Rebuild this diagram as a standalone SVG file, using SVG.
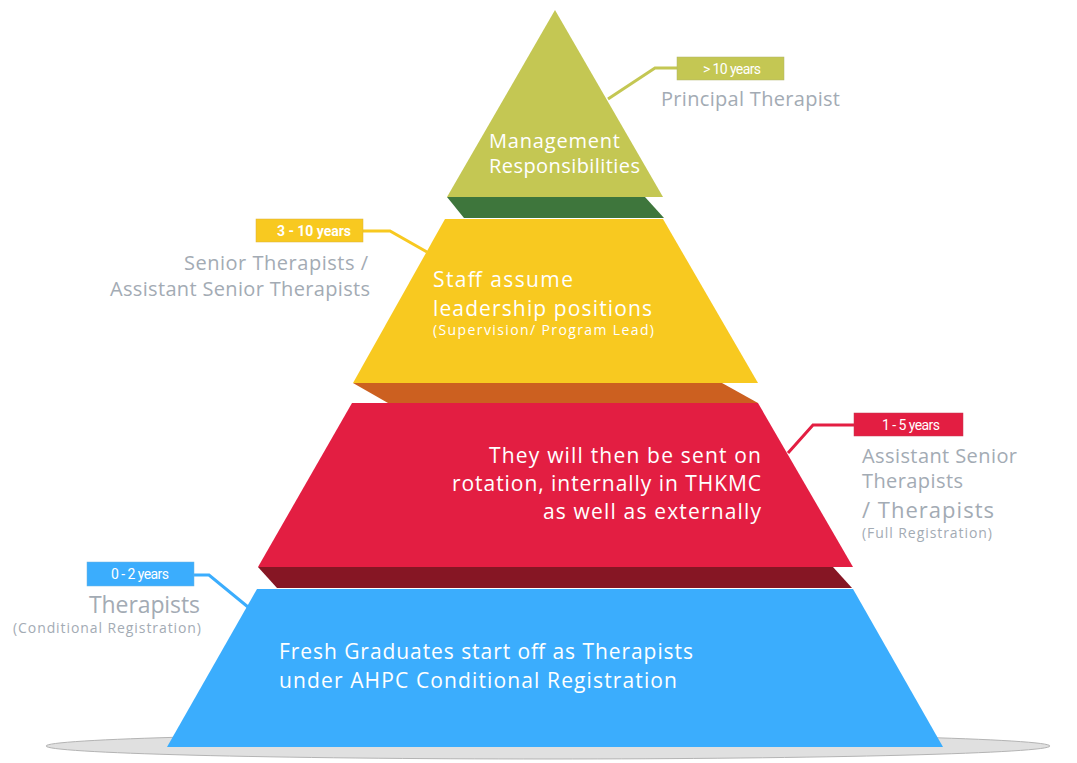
<svg xmlns="http://www.w3.org/2000/svg" width="1077" height="763" viewBox="0 0 1077 763">
<style>
.main{font-family:"Open Sans",Lato,sans-serif;fill:#ffffff;}
.side{font-family:"Open Sans",Lato,sans-serif;fill:#a3abb4;}
.yr{font-family:Roboto,"Liberation Sans",sans-serif;font-size:14px;fill:#ffffff;text-anchor:middle;}
.conn{fill:none;stroke-width:3;stroke-linejoin:miter;}
</style>
<rect width="1077" height="763" fill="#ffffff"/>
<g id="base">
<ellipse cx="548" cy="746" rx="502" ry="13" fill="#e0e0e0" stroke="#b4b4b4" stroke-width="1"/>
</g>
<g id="tier-blue">
<polygon points="257,589 853,589 943,747 167,747" fill="#3badfd"/>
<text class="main" font-size="21" x="279" y="659" textLength="414">Fresh Graduates start off as Therapists</text>
<text class="main" font-size="21" x="279" y="688" textLength="398">under AHPC Conditional Registration</text>
</g>
<g id="tier-red">
<polygon points="258,567 833,567 852,588 277,588" fill="#861624"/>
<polygon points="352,403 758,403 853,567 258,567" fill="#e31e42"/>
<text class="main" font-size="21" x="761" y="463" text-anchor="end" textLength="272">They will then be sent on</text>
<text class="main" font-size="21" x="761" y="491" text-anchor="end" textLength="309">rotation, internally in THKMC</text>
<text class="main" font-size="21" x="761" y="519" text-anchor="end" textLength="218">as well as externally</text>
</g>
<g id="tier-yellow">
<polygon points="353,383 722,383 758,403 388,403" fill="#cc6020"/>
<polygon points="445,219 663,219 758,383 353,383" fill="#f8c920"/>
<text class="main" font-size="21" x="433" y="287" textLength="140">Staff assume</text>
<text class="main" font-size="21" x="433" y="316" textLength="219">leadership positions</text>
<text class="main" font-size="14" x="433" y="335" textLength="221">(Supervision/ Program Lead)</text>
</g>
<g id="tier-top">
<polygon points="447,197 645,197 664,218 464,218" fill="#3e763c"/>
<polygon points="555,10 663,197 447,197" fill="#c4c753"/>
<text class="main" font-size="20" x="489" y="148" textLength="131">Management</text>
<text class="main" font-size="20" x="489" y="173" textLength="151">Responsibilities</text>
</g>
<g id="connectors">
<polyline class="conn" stroke="#c4c753" points="608,99 655,68 678,68"/>
<polyline class="conn" stroke="#f8c920" points="362,231 390,231 427,252"/>
<polyline class="conn" stroke="#e31e42" points="855,425 813,425 788,453"/>
<polyline class="conn" stroke="#3badfd" points="193,575 209,575 248,607"/>
</g>
<g id="label-principal">
<rect x="677" y="57" width="107" height="23" fill="#c4c753" stroke="#b0b36a" stroke-width="0.5"/>
<text class="yr" x="732" y="74" textLength="58">&gt; 10 years</text>
<text class="side" font-size="20" x="661" y="106" textLength="179">Principal Therapist</text>
</g>
<g id="label-senior">
<rect x="256" y="219" width="107" height="23" fill="#f8c920" stroke="#d9b13a" stroke-width="0.5"/>
<text class="yr" x="314" y="236" font-weight="bold" textLength="74">3 - 10 years</text>
<text class="side" font-size="20" x="368" y="270" text-anchor="end" textLength="184">Senior Therapists /</text>
<text class="side" font-size="20" x="370" y="296" text-anchor="end" textLength="260">Assistant Senior Therapists</text>
</g>
<g id="label-assistant">
<rect x="854" y="413" width="109" height="23" fill="#e31e42" stroke="#c43a50" stroke-width="0.5"/>
<text class="yr" x="911" y="430" textLength="58">1 - 5 years</text>
<text class="side" font-size="20" x="862" y="463" textLength="155">Assistant Senior</text>
<text class="side" font-size="20" x="862" y="488" textLength="101">Therapists</text>
<text class="side" font-size="22" x="862" y="518" textLength="132">/ Therapists</text>
<text class="side" font-size="14" x="862" y="538" textLength="130">(Full Registration)</text>
</g>
<g id="label-therapists">
<rect x="87" y="562" width="107" height="24" fill="#3badfd" stroke="#6fb5e0" stroke-width="0.5"/>
<text class="yr" x="140" y="579" textLength="58">0 - 2 years</text>
<text class="side" font-size="23" x="200" y="613" text-anchor="end" textLength="111">Therapists</text>
<text class="side" font-size="14" x="201" y="633" text-anchor="end" textLength="188">(Conditional Registration)</text>
</g>
</svg>
